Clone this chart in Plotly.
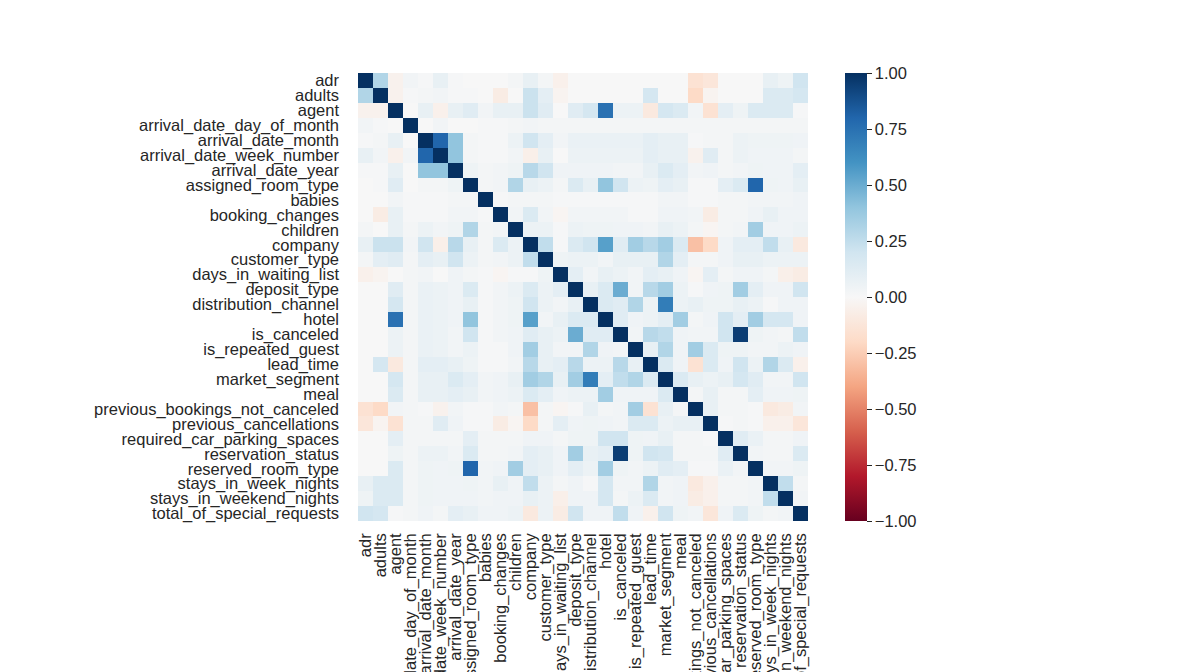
import numpy as np
import plotly.graph_objects as go

labels = [
    "adr", "adults", "agent", "arrival_date_day_of_month", "arrival_date_month",
    "arrival_date_week_number", "arrival_date_year", "assigned_room_type", "babies",
    "booking_changes", "children", "company", "customer_type", "days_in_waiting_list",
    "deposit_type", "distribution_channel", "hotel", "is_canceled", "is_repeated_guest",
    "lead_time", "market_segment", "meal", "previous_bookings_not_canceled",
    "previous_cancellations", "required_car_parking_spaces", "reservation_status",
    "reserved_room_type", "stays_in_week_nights", "stays_in_weekend_nights",
    "total_of_special_requests",
]

# upper triangle of the correlation matrix, row i holds columns i+1 .. 29
upper = [
    [0.3, -0.04, 0.03, 0.01, 0.08, 0.01, 0.0, 0.0, 0.0, 0.02, 0.08, 0.02, -0.05, 0.0,
     0.0, 0.0, 0.0, 0.0, 0.0, 0.0, 0.0, -0.15, -0.12, 0.0, 0.0, 0.0, 0.08, 0.05, 0.2],
    [-0.04, 0.01, 0.02, 0.03, 0.01, 0.01, 0.0, -0.08, 0.0, 0.22, 0.1, -0.03, 0.0, 0.0,
     0.0, 0.0, 0.0, 0.18, 0.0, 0.0, -0.2, -0.03, 0.0, 0.0, 0.0, 0.15, 0.15, 0.18],
    [0.0, 0.08, -0.05, 0.08, 0.12, 0.03, 0.08, 0.08, 0.22, 0.12, 0.0, 0.12, 0.18, 0.75,
     0.06, 0.06, -0.1, 0.18, 0.15, 0.03, -0.15, 0.1, 0.05, 0.15, 0.15, 0.15, 0.01],
    [0.0, 0.03, 0.0, 0.0, 0.01, 0.01, 0.02, 0.03, 0.02, 0.02, 0.02, 0.02, 0.02, 0.02,
     0.02, 0.02, 0.02, 0.02, 0.02, 0.02, 0.02, 0.02, 0.02, 0.02, 0.02, 0.02],
    [0.8, 0.4, 0.02, 0.01, 0.01, 0.06, 0.2, 0.1, 0.03, 0.07, 0.07, 0.07, 0.07, 0.07,
     0.1, 0.08, 0.08, 0.01, 0.02, 0.02, 0.06, 0.05, 0.05, 0.05, 0.04],
    [0.4, 0.02, 0.01, 0.01, 0.03, -0.06, 0.08, 0.0, 0.06, 0.06, 0.06, 0.06, 0.06, 0.1,
     0.08, 0.08, -0.04, 0.12, 0.02, 0.06, 0.04, 0.04, 0.04, 0.02],
    [0.05, 0.02, 0.03, 0.05, 0.28, 0.2, 0.04, 0.04, 0.04, 0.04, 0.03, 0.03, 0.08, 0.15,
     0.1, 0.03, 0.04, 0.02, 0.03, 0.05, 0.04, 0.04, 0.1],
    [0.02, 0.03, 0.3, 0.08, 0.06, 0.02, 0.15, 0.08, 0.4, 0.2, 0.06, 0.05, 0.1, 0.08,
     0.01, 0.01, 0.1, 0.15, 0.8, 0.05, 0.04, 0.08],
    [0.01, 0.02, 0.02, 0.02, 0.01, 0.01, 0.01, 0.01, 0.01, 0.01, 0.01, 0.03, 0.03, 0.01,
     0.01, 0.02, 0.02, 0.03, 0.03, 0.03, 0.04],
    [0.03, 0.15, 0.03, -0.02, 0.03, 0.03, 0.03, 0.03, 0.01, 0.01, 0.04, 0.04, 0.03,
     -0.08, 0.02, 0.02, 0.04, 0.08, 0.04, 0.04],
    [0.06, 0.06, 0.01, 0.06, 0.05, 0.05, 0.04, 0.04, 0.03, 0.08, 0.06, 0.02, -0.02, 0.02,
     0.03, 0.35, 0.04, 0.04, 0.06],
    [0.25, 0.01, 0.15, 0.2, 0.55, 0.12, 0.35, 0.28, 0.35, 0.15, -0.3, -0.2, 0.04, 0.1,
     0.1, 0.25, 0.08, -0.1],
    [0.05, 0.06, 0.06, 0.03, 0.08, 0.08, 0.08, 0.3, 0.1, 0.02, 0.02, 0.04, 0.08, 0.08,
     0.06, 0.06, 0.06],
    [0.1, 0.03, 0.08, 0.06, 0.03, 0.1, 0.08, 0.04, -0.02, 0.1, 0.02, 0.04, 0.04, 0.02,
     -0.06, -0.08],
    [0.08, 0.15, 0.5, 0.03, 0.28, 0.35, 0.06, 0.01, 0.04, 0.05, 0.35, 0.1, 0.04, 0.04, 0.2],
    [0.15, 0.12, 0.3, 0.06, 0.7, 0.06, 0.08, 0.05, 0.05, 0.08, 0.06, 0.01, 0.04, 0.04],
    [0.12, 0.04, 0.06, 0.1, 0.35, 0.02, 0.04, 0.2, 0.1, 0.35, 0.18, 0.18, 0.04],
    [0.03, 0.28, 0.25, 0.04, 0.03, 0.03, 0.2, 0.95, 0.05, 0.03, 0.02, 0.25],
    [0.08, 0.3, 0.04, 0.35, 0.15, 0.05, 0.05, 0.03, 0.03, 0.06, 0.04],
    [0.15, 0.04, -0.15, 0.15, 0.04, 0.2, 0.06, 0.3, 0.15, -0.05],
    [0.15, 0.08, 0.06, 0.08, 0.18, 0.12, 0.03, 0.03, 0.2],
    [0.02, 0.08, 0.02, 0.02, 0.1, 0.04, 0.04, 0.05],
    [0.08, 0.02, 0.02, 0.01, -0.1, -0.08, 0.03],
    [0.01, 0.02, 0.01, -0.05, -0.05, -0.12],
    [0.12, 0.07, 0.02, 0.02, 0.04],
    [0.03, 0.02, 0.02, 0.15],
    [0.03, 0.03, 0.05],
    [0.25, 0.02],
    [0.03],
]

n = len(labels)
corr = np.eye(n)
for i, row in enumerate(upper):
    for k, v in enumerate(row):
        corr[i, i + 1 + k] = v
        corr[i + 1 + k, i] = v

rdbu = ["rgb(103,0,31)", "rgb(178,24,43)", "rgb(214,96,77)", "rgb(244,165,130)",
        "rgb(253,219,199)", "rgb(247,247,247)", "rgb(209,229,240)", "rgb(146,197,222)",
        "rgb(67,147,195)", "rgb(33,102,172)", "rgb(5,48,97)"]
scale = [[i / 10, c] for i, c in enumerate(rdbu)]

txt = "#262626"
font = dict(family="Liberation Sans, Arial, sans-serif", size=16.5, color=txt)

fig = go.Figure(
    go.Heatmap(
        z=corr, x=labels, y=labels,
        colorscale=scale, zmin=-1, zmax=1,
        colorbar=dict(
            x=1.082, xanchor="left", xpad=0, y=0.5, yanchor="middle", len=1, ypad=0,
            thickness=22, outlinewidth=0,
            ticks="outside", ticklen=5, tickwidth=1, tickcolor=txt,
            tickvals=[-1, -0.75, -0.5, -0.25, 0, 0.25, 0.5, 0.75, 1],
            tickformat=".2f", tickfont=font,
        ),
    )
)

fig.update_layout(
    width=1192, height=672,
    margin=dict(l=350, r=392, t=65, b=159),
    paper_bgcolor="white", plot_bgcolor="white",
    font=font,
)
fig.update_xaxes(tickmode="array", tickvals=labels, ticktext=labels,
                 tickangle=-90, showgrid=False, zeroline=False, automargin=False,
                 ticklabelstandoff=8, tickfont=font)
fig.update_yaxes(tickmode="array", tickvals=labels, ticktext=labels,
                 autorange="reversed", showgrid=False, zeroline=False, automargin=False,
                 ticklabelstandoff=18, tickfont=font)

fig.write_html("out.html")
